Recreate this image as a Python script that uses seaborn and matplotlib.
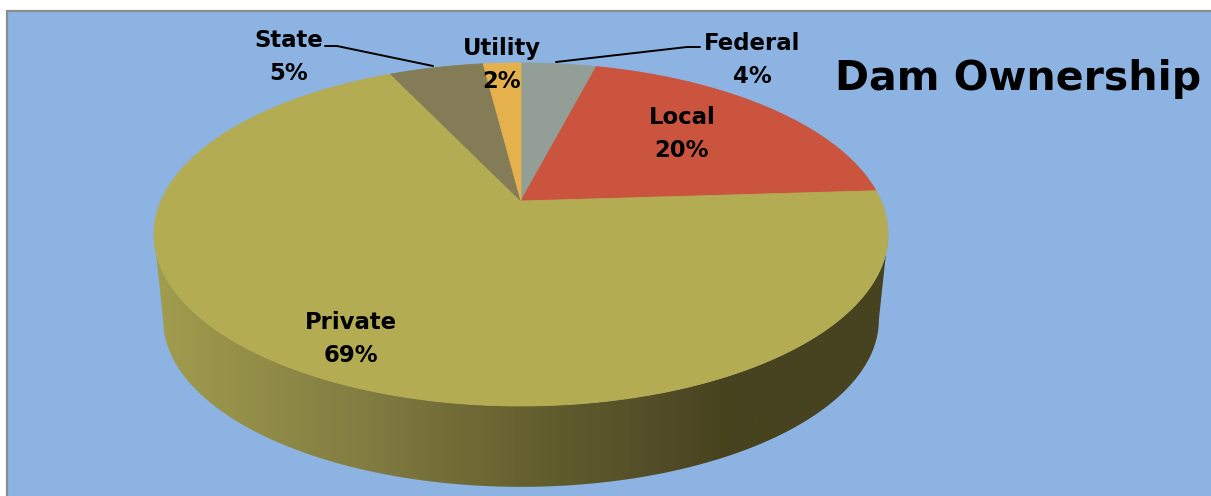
import numpy as np
import matplotlib.pyplot as plt
import seaborn as sns
from matplotlib.colors import LinearSegmentedColormap
from matplotlib.patches import Polygon, Rectangle

# Data
owners = ['Federal', 'Local', 'Private', 'State', 'Utility']
shares = [4, 20, 69, 5, 2]
pct_labels = ['4%', '20%', '69%', '5%', '2%']
slice_colors = ['#939F96', '#CB543E', '#B3AC52', '#837C56', '#E4B14C']

# Label placement (pixels: x centre, baseline of name line)
label_pos = {'Federal': (752, 50), 'Local': (682, 124), 'Private': (351, 329),
             'State': (289, 47), 'Utility': (502, 55)}

sns.set_theme(style='white')
plt.rcParams['font.family'] = ['DejaVu Sans']

W, H = 1211, 496
fig = plt.figure(figsize=(W / 100, H / 100), dpi=100)
fig.patch.set_facecolor('white')
ax = fig.add_axes([0, 0, 1, 1])

# pie geometry in pixel space, with a little perspective
cx, cy = 521, 201
rx, ry, k = 360, 165, 0.195
depth, shrink = 86, 0.975


def rim(t, dy=0.0, s=1.0):
    u, v = np.cos(t), np.sin(t)
    x = cx + s * rx * u / (1 + k * v)
    y = cy + dy - s * ry * v / (1 + k * v)
    return x, y


# chart background (border only shows on top and left)
ax.add_patch(Rectangle((6.5, 10.5), W + 50, H + 50, facecolor='#8DB3E2',
                       edgecolor='#8C8C8C', lw=1.6, zorder=0))

# side wall of the pie (front part only, all in the Private slice)
t1, t2 = np.pi + np.arcsin(k), 2 * np.pi - np.arcsin(k)
ts = np.linspace(t1, t2, 300)
xt, yt = rim(ts)
xb, yb = rim(ts[::-1], dy=depth, s=shrink)
side = Polygon(np.column_stack([np.r_[xt, xb], np.r_[yt, yb]]),
               closed=True, facecolor='none', edgecolor='none')
ax.add_patch(side)
side_cmap = LinearSegmentedColormap.from_list(
    'side', [(0, '#A39D4E'), (0.31, '#7F7A40'), (0.5, '#66612F'),
             (0.716, '#4F4A25'), (0.78, '#48431F'), (1, '#47421F')])
grad = ax.imshow(np.linspace(0, 1, 256)[None, :], cmap=side_cmap,
                 extent=(150, 890, 500, 190), aspect='auto', zorder=1)
grad.set_clip_path(side)

# top face slices, clockwise from 12 o'clock
fracs = np.array(shares) / sum(shares)
ends = 90 - 360 * np.cumsum(fracs)
starts = np.r_[90, ends[:-1]]
for name, a0, a1, col in zip(owners, starts, ends, slice_colors):
    tt = np.radians(np.linspace(a0, a1, 200))
    xs, ys = rim(tt)
    ax.fill(np.r_[cx, xs], np.r_[cy, ys], color=col, lw=0.6, ec=col, zorder=2)

# labels
for name, pct in zip(owners, pct_labels):
    x, y = label_pos[name]
    ax.text(x, y, name, ha='center', va='baseline', fontsize=16.4,
            fontweight='bold', color='black', zorder=4)
    ax.text(x, y + 33, pct, ha='center', va='baseline', fontsize=16.4,
            fontweight='bold', color='black', zorder=4)

# leader lines
ax.plot([325, 337, 433], [46, 46, 66], color='black', lw=1.4, zorder=3)
ax.plot([556, 687, 700], [62, 47, 47], color='black', lw=1.4, zorder=3)

ax.text(835, 90, 'Dam Ownership', ha='left', va='baseline', fontsize=29.5,
        fontweight='bold', color='black', zorder=4)

ax.set_xlim(0, W)
ax.set_ylim(H, 0)
ax.axis('off')

plt.savefig('out.png', dpi=100, facecolor='white')
